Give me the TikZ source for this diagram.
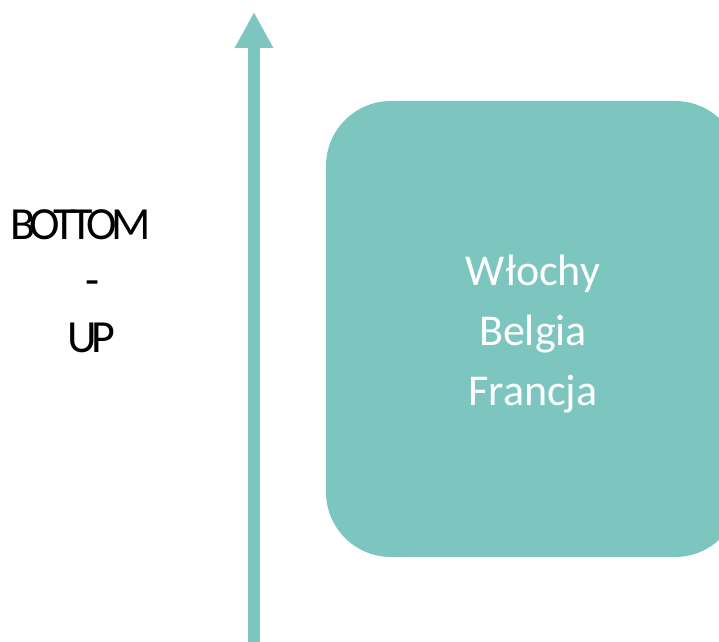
\documentclass[tikz,border=0pt]{standalone}
\usepackage{fontspec}
\setmainfont{Carlito}
\usepackage{xcolor}
\usepackage{tikz}
\usetikzlibrary{arrows.meta}
\definecolor{sea}{HTML}{7CC6BF}
\tikzset{
  axis/.style={draw=sea, line width=9pt, -{Triangle[length=27pt,width=27pt]}},
  card/.style={fill=sea, rounded corners=48.75pt, minimum width=310.5pt, minimum height=342pt},
  names/.style={text=white, align=center, font=\fontsize{33}{44.8}\selectfont},
  side/.style={anchor=base, font=\fontsize{34.5}{42.75}\selectfont\addfontfeatures{LetterSpace=-12}}
}
\begin{document}
\begin{tikzpicture}[x=0.75pt, y=-0.75pt]
  \useasboundingbox (0,0) rectangle (719,642);
  \coordinate (foot) at (254,642);
  \coordinate (head) at (254,12);

  \draw[axis] (foot) -- (head);

  % countries box, runs off the right edge
  \node[card] (box) at (533,329) {};
  \node[names] (list) at (533,334) {Włochy\\Belgia\\Francja};

  \node[side] (bottom) at (80.5,239) {BOTTOM};
  \node[side] (dash) at (93,296) {-};
  \node[side] (up) at (91,353) {UP};
\end{tikzpicture}
\end{document}
